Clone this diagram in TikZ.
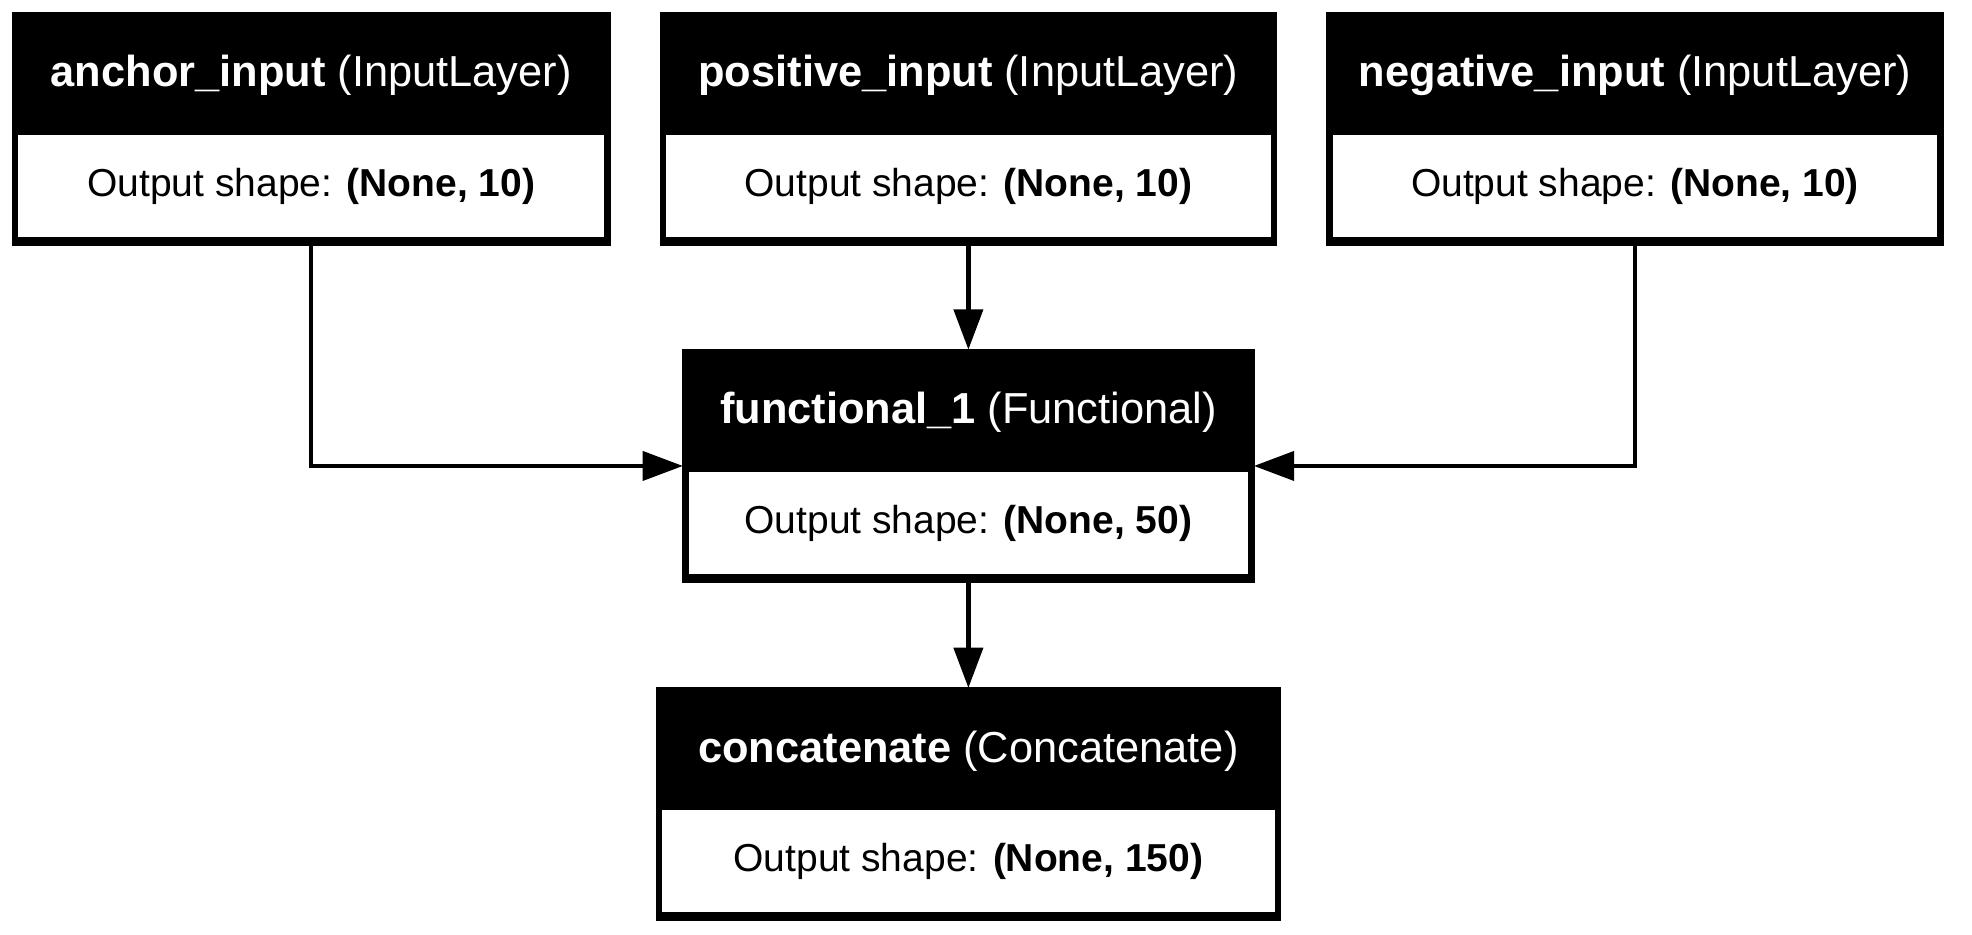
\documentclass[tikz,border=0pt]{standalone}
\usepackage{fontspec}
\setmainfont{Liberation Sans}
\usetikzlibrary{arrows.meta,calc}
\tikzset{
  outerbox/.style={draw=black, fill=black, line width=1pt, rectangle, inner sep=0pt, outer sep=0pt},
  bodybox/.style={fill=white, rectangle, inner sep=0pt, outer sep=0pt},
  ttl/.style={text=white, font=\fontsize{34.5}{40}\selectfont, inner sep=0pt},
  shp/.style={text=black, font=\fontsize{31}{36}\selectfont, inner sep=0pt},
  conn/.style={line width=3.4pt, -{Triangle[length=32pt,width=23pt]}},
}
% #1 name, #2 centre x, #3 top y, #4 width, #5 bold name, #6 class, #7 shape
\newcommand\mklayer[7]{%
  \node[outerbox, minimum width=#4pt, minimum height=185pt, anchor=north] (#1) at (#2,-#3) {};
  \node[bodybox, minimum width={(#4-9)*1pt}, minimum height=81.5pt, anchor=south] (#1-body) at ($(#1.south)+(0,6.5)$) {};
  \node[ttl] (#1-title) at ($(#1.north)+(0,-50)$) {\textbf{#5} #6};
  \node[shp] (#1-shape) at ($(#1.north)+(0,-138)$) {Output shape: \textbf{#7}};
}
\begin{document}
\begin{tikzpicture}[x=1pt,y=1pt]
  \useasboundingbox[fill=white] (0,0) rectangle (1568,-743);
  \mklayer{a}{247.5}{10}{475}{anchor\_input}{(InputLayer)}{(None, 10)}
  \mklayer{p}{770}{10}{490}{positive\_input}{(InputLayer)}{(None, 10)}
  \mklayer{n}{1300}{10}{490}{negative\_input}{(InputLayer)}{(None, 10)}
  \mklayer{f}{770}{278}{454}{functional\_1}{(Functional)}{(None, 50)}
  \mklayer{c}{770}{547}{496}{concatenate}{(Concatenate)}{(None, 150)}
  \draw[conn] (a.south) |- (f.west);
  \draw[conn] (p.south) -- (f.north);
  \draw[conn] (n.south) |- (f.east);
  \draw[conn] (f.south) -- (c.north);
\end{tikzpicture}
\end{document}
